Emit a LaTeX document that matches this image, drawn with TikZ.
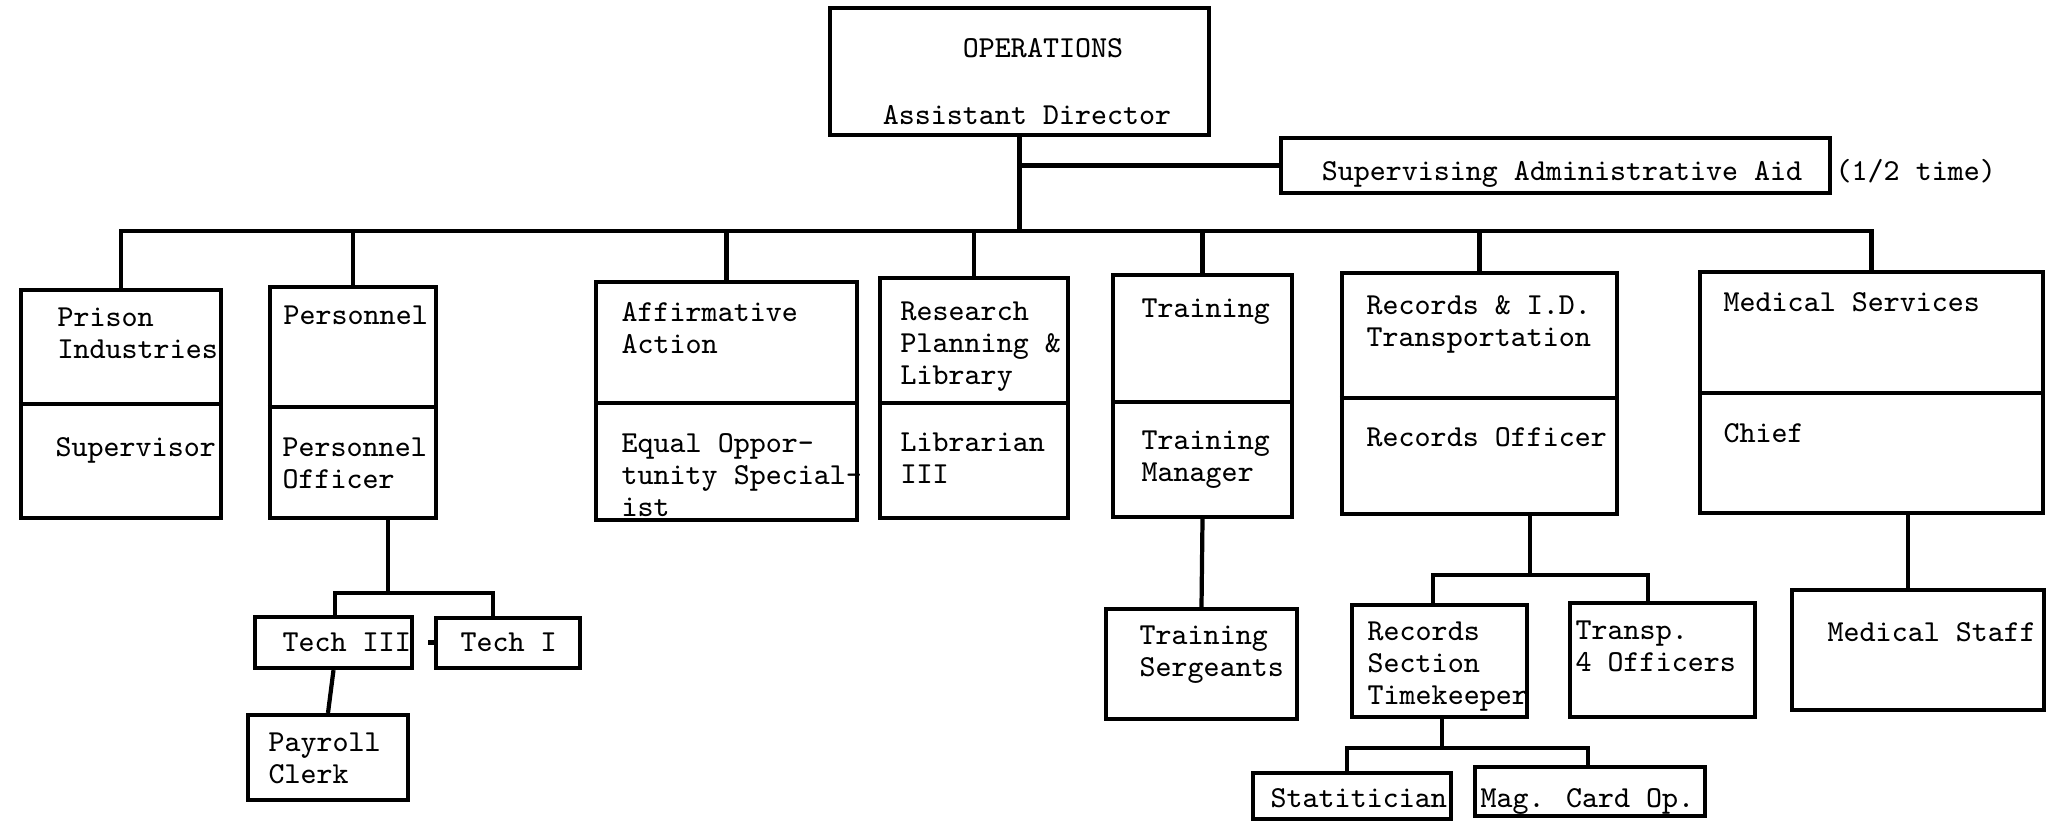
\documentclass[tikz,border=0pt]{standalone}
\usepackage{fontspec}
\usetikzlibrary{fit,calc}
\begin{document}
\begin{tikzpicture}[x=0.01cm,y=-0.01cm,
  box/.style={draw, line width=1.2pt, inner sep=0pt, rectangle},
  conn/.style={line width=1.2pt},
  txt/.style={font=\ttfamily\fontsize{8.67}{9.1}\selectfont, inner sep=0pt, align=left, anchor=base west},
  ctxt/.style={txt, anchor=base, align=center}]
\useasboundingbox (0,0) rectangle (2048,820);
\fill[white] (0,0) rectangle (2048,820);

% top (multi-line nodes are anchored at the baseline of their last line)
\node[box, fit={(830,8) (1209,135)}] (ops) {};
\node[ctxt] (opsa) at (1043,57) {OPERATIONS};
\node[ctxt] (opsb) at (1027,124) {Assistant Director};

\node[box, fit={(1281,138) (1830,193)}] (sup) {};
\node[ctxt] (supt) at (1562,180) {Supervising Administrative Aid};
\node[txt] (half) at (1835,180) {(1/2 time)};

% level 1 boxes
\node[box, fit={(21,290) (221,518)}] (pi) {};
\draw[conn] (pi.west |- 0,404) -- (pi.east |- 0,404);
\node[txt] (pia) at (57,358) {Prison\\Industries};
\node[txt] (pib) at (55,456) {Supervisor};

\node[box, fit={(270,287) (436,518)}] (per) {};
\draw[conn] (per.west |- 0,407) -- (per.east |- 0,407);
\node[txt] (pera) at (283,324) {Personnel};
\node[txt] (perb) at (282,488) {Personnel\\Officer};

\node[box, fit={(596,282) (857,520)}] (aa) {};
\draw[conn] (aa.west |- 0,403) -- (aa.east |- 0,403);
\node[txt] (aaa) at (621,353) {Affirmative\\Action};
\node[txt] (aab) at (621,516) {Equal Oppor-\\tunity Special-\\ist};

\node[box, fit={(880,278) (1068,518)}] (rpl) {};
\draw[conn] (rpl.west |- 0,403) -- (rpl.east |- 0,403);
\node[txt] (rpla) at (900,384) {Research\\Planning \&\\Library};
\node[txt] (rplb) at (900,483) {Librarian\\III};

\node[box, fit={(1113,275) (1292,517)}] (trn) {};
\draw[conn] (trn.west |- 0,402) -- (trn.east |- 0,402);
\node[txt] (trna) at (1141,317) {Training};
\node[txt] (trnb) at (1141,481) {Training\\Manager};

\node[box, fit={(1342,273) (1617,514)}] (rec) {};
\draw[conn] (rec.west |- 0,398) -- (rec.east |- 0,398);
\node[txt] (reca) at (1366,346) {Records \& I.D.\\Transportation};
\node[txt] (recb) at (1366,446) {Records Officer};

\node[box, fit={(1700,272) (2043,513)}] (med) {};
\draw[conn] (med.west |- 0,393) -- (med.east |- 0,393);
\node[txt] (meda) at (1723,311) {Medical Services};
\node[txt] (medb) at (1723,442) {Chief};

% level 2 boxes
\node[box, fit={(255,617) (412,668)}] (t3) {};
\node[txt] (t3t) at (282,651) {Tech III};
\node[box, fit={(436,618) (580,668)}] (t1) {};
\node[txt] (t1t) at (460,651) {Tech I};
\node[box, fit={(248,715) (408,800)}] (pay) {};
\node[txt] (payt) at (268,783) {Payroll\\Clerk};

\node[box, fit={(1106,609) (1297,719)}] (ts) {};
\node[txt] (tst) at (1139,676) {Training\\Sergeants};

\node[box, fit={(1352,605) (1527,717)}] (rs) {};
\node[txt] (rst) at (1367,704) {Records\\Section\\Timekeeper};
\node[box, fit={(1570,603) (1755,717)}] (tr) {};
\node[txt] (trt) at (1575,671) {Transp.\\4 Officers};

\node[box, fit={(1792,590) (2044,710)}] (ms) {};
\node[txt] (mst) at (1827,641) {Medical Staff};

\node[box, fit={(1253,773) (1451,819)}] (stat) {};
\node[txt] (statt) at (1270,807) {Statitician};
\node[box, fit={(1475,767) (1705,816)}] (mag) {};
\node[txt] (magt) at (1480,807) {Mag. Card Op.};

% connectors
\coordinate (bus) at (0,231);
\draw[conn] (ops.south) -- (ops.south |- bus);
\draw[conn] (ops.south |- sup.west) -- (sup.west);
\draw[conn] (pi.north) -- (pi.north |- bus) -- (med.north |- bus) -- (med.north);
\foreach \n in {per,aa,rpl,trn,rec} \draw[conn] (\n.north) -- (\n.north |- bus);

\coordinate (pb) at (388,593);
\coordinate (pbl) at (335,593);
\coordinate (pbr) at (493,593);
\draw[conn] (per.south -| pb) -- (pb);
\draw[conn] (t3.north -| pbl) -- (pbl) -- (pbr) -- (t1.north -| pbr);
\draw[conn] ([xshift=0.14cm]t3.east) -- ([xshift=0.2cm]t3.east);
\draw[conn] (t3.south) -- (pay.north);

\draw[conn] (trn.south) -- (ts.north);

\coordinate (rb) at (1530,575);
\coordinate (rbl) at (1433,575);
\coordinate (rbr) at (1648,575);
\draw[conn] (rec.south -| rb) -- (rb);
\draw[conn] (rs.north -| rbl) -- (rbl) -- (rbr) -- (tr.north -| rbr);

\coordinate (sb) at (1442,748);
\coordinate (sbl) at (1347,748);
\coordinate (sbr) at (1588,748);
\draw[conn] (rs.south -| sb) -- (sb);
\draw[conn] (stat.north -| sbl) -- (sbl) -- (sbr) -- (mag.north -| sbr);

\coordinate (mb) at (1908,0);
\draw[conn] (med.south -| mb) -- (ms.north -| mb);
\end{tikzpicture}
\end{document}
